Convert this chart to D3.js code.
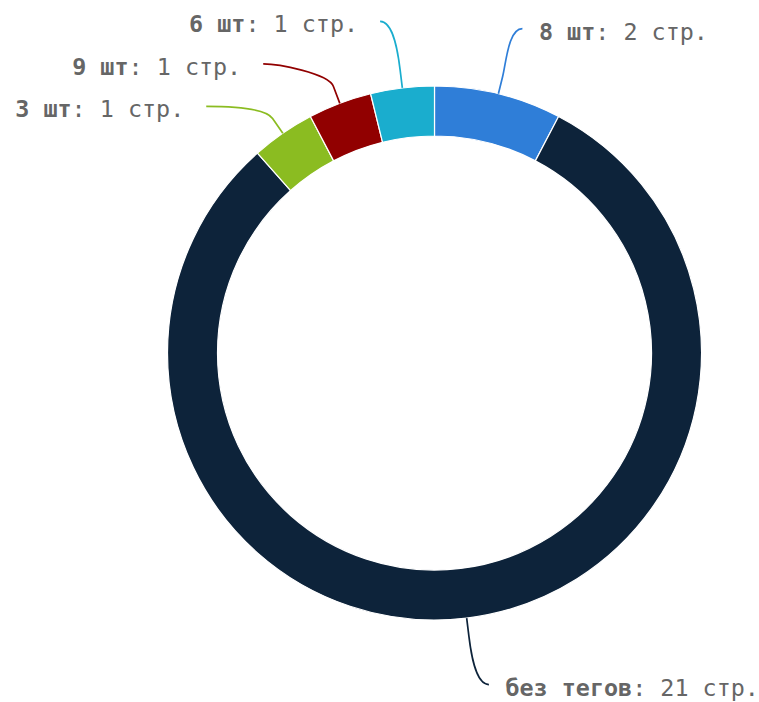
<!DOCTYPE html>
<html>
<head>
<meta charset="utf-8">
<script src="https://cdn.jsdelivr.net/npm/d3@7/dist/d3.min.js"></script>
<style>
  html, body { margin: 0; padding: 0; background: #fff; }
  svg { display: block; }
  text { font-family: "DejaVu Sans Mono", "Liberation Mono", monospace; }
</style>
</head>
<body>
<svg id="chart" width="759" height="702"></svg>
<script>
// ---- data ----
const categories = ["8 шт", "без тегов", "3 шт", "9 шт", "6 шт"];
const values = [2, 21, 1, 1, 1];
const unit = "стр.";
const colors = ["#2f7ed8", "#0d233a", "#8bbc21", "#910000", "#1aadce"];

// ---- layout ----
const W = 759, H = 702;
const cx = 434.5, cy = 353;
const outerR = 267, innerR = 217;
const labelR = 334;        // radius at which labels sit
const labelRx = 336;       // radius used to find label x from its y
const labelSpacing = 42.5; // minimum vertical distance between labels on a side
const breakOffset = 18;    // connector bend distance outside the ring
const fontSize = 23.4;

const svg = d3.select("#chart");
const g = svg.append("g").attr("transform", `translate(${cx},${cy})`);

const data = categories.map((c, i) => ({ name: c, value: values[i], color: colors[i] }));
const pie = d3.pie().value(d => d.value).sort(null).startAngle(0).endAngle(2 * Math.PI);
const arcs = pie(data);
const arc = d3.arc().innerRadius(innerR).outerRadius(outerR);

g.selectAll("path.slice")
  .data(arcs)
  .join("path")
  .attr("class", "slice")
  .attr("d", arc)
  .attr("fill", d => d.data.color)
  .attr("stroke", "#ffffff")
  .attr("stroke-width", 1.2)
  .attr("stroke-linejoin", "round");

// polar helper (d3 angle: 0 at top, clockwise)
const polar = (a, r) => [r * Math.sin(a), -r * Math.cos(a)];

// label placement with simple collision avoidance per side
const labels = arcs.map(d => {
  const mid = (d.startAngle + d.endAngle) / 2;
  const side = Math.sin(mid) >= 0 ? 1 : -1;
  const [, ny] = polar(mid, labelR);
  return { d, mid, side, y: ny };
});
[1, -1].forEach(side => {
  const group = labels.filter(l => l.side === side).sort((a, b) => a.y - b.y);
  for (let i = 1; i < group.length; i++) {
    if (group[i].y < group[i - 1].y + labelSpacing) group[i].y = group[i - 1].y + labelSpacing;
  }
});
labels.forEach(l => {
  const dy = Math.max(-labelRx, Math.min(labelRx, l.y));
  l.x = l.side * Math.sqrt(labelRx * labelRx - dy * dy);
});

// connectors (soft connector: label -> bend outside ring -> ring edge)
labels.forEach(l => {
  const touch = polar(l.mid, outerR);
  const brk = polar(l.mid, outerR + breakOffset);
  const c2 = [brk[0] + 0.8 * (brk[0] - touch[0]), brk[1] + 0.8 * (brk[1] - touch[1])];
  const p = d3.path();
  p.moveTo(l.x, l.y);
  p.bezierCurveTo(l.x - l.side * 14, l.y, c2[0], c2[1], brk[0], brk[1]);
  p.lineTo(touch[0], touch[1]);
  g.append("path")
    .attr("d", p.toString())
    .attr("fill", "none")
    .attr("stroke", l.d.data.color)
    .attr("stroke-width", 1.7);
});

// label texts
labels.forEach(l => {
  const t = g.append("text")
    .attr("x", l.x + (l.side > 0 ? 16.5 : -22))
    .attr("y", l.y + 11)
    .attr("text-anchor", l.side > 0 ? "start" : "end")
    .attr("font-size", fontSize)
    .attr("fill", "#666666");
  t.append("tspan").attr("font-weight", "bold").text(l.d.data.name);
  t.append("tspan").text(`: ${l.d.data.value} ${unit}`);
});
</script>
</body>
</html>
